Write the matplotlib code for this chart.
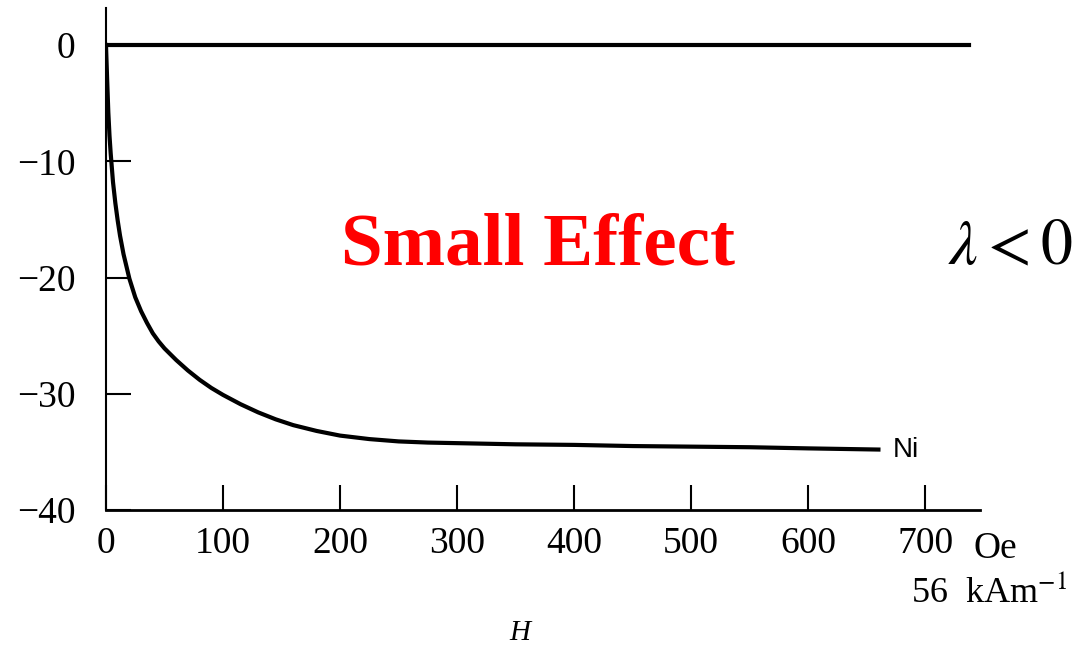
import matplotlib.pyplot as plt

# field H (Oe) and magnetostriction (x10^-6)
h_ni = [0, 1, 2, 3, 4, 6, 8, 10, 12, 15, 20, 25, 30, 35, 40, 45, 50, 60, 70, 80, 90, 100,
        115, 130, 145, 160, 180, 200, 225, 250, 275, 300, 350, 400, 450, 500, 550, 600, 660]
lam_ni = [0, -3, -5.8, -7.8, -9.3, -11.8, -13.6, -15.1, -16.4, -18.0, -20.1, -21.7, -22.9,
          -23.9, -24.8, -25.5, -26.1, -27.1, -28.0, -28.8, -29.5, -30.1,
          -30.9, -31.6, -32.2, -32.7, -33.2, -33.6, -33.9, -34.1, -34.2, -34.25, -34.35, -34.4,
          -34.5, -34.55, -34.6, -34.7, -34.8]
h_zero = [3, 737]
lam_zero = [0, 0]

xticks = [0, 100, 200, 300, 400, 500, 600, 700]
yticks = [0, -10, -20, -30, -40]
ylabels = ['0', '\u221210', '\u221220', '\u221230', '\u221240']

plt.rcParams['font.family'] = ['Liberation Serif', 'DejaVu Serif']

fig = plt.figure(figsize=(10.76, 6.51), dpi=100)
ax = fig.add_axes([0.0985, 0.2166, 0.8125, 0.7714])

ax.plot(h_ni, lam_ni, color='black', lw=3, solid_joinstyle='round')
ax.plot(h_zero, lam_zero, color='black', lw=3)

ax.set_xlim(0, 747)
ax.set_ylim(-40, 3.2)
ax.spines['top'].set_visible(False)
ax.spines['right'].set_visible(False)
ax.spines['left'].set_linewidth(1.5)
ax.spines['bottom'].set_linewidth(2)

ax.set_xticks(xticks)
ax.set_yticks(yticks)
ax.set_yticklabels(ylabels)
ax.tick_params(axis='both', direction='in', length=18, width=1.5, labelsize=27)
ax.tick_params(axis='x', pad=12)
ax.tick_params(axis='y', pad=22)

ax.text(672, -34.8, 'Ni', fontsize=20, va='center', ha='left', family='Liberation Sans')
fig.text(0.5, 0.622, 'Small Effect', color='red', fontsize=54, fontweight='bold',
         ha='center', va='center')
fig.text(0.997, 0.617, r'$\lambda < 0$', fontsize=46, ha='right', va='center',
         math_fontfamily='stix')
fig.text(0.905, 0.157, 'Oe', fontsize=27, ha='left', va='center')
fig.text(0.847, 0.090, '56  kAm$^{-1}$', fontsize=26, ha='left', va='center',
         math_fontfamily='stix')
fig.text(0.483, 0.028, 'H', fontsize=21, style='italic', ha='center', va='center')

fig.savefig('out.png', dpi=100)
